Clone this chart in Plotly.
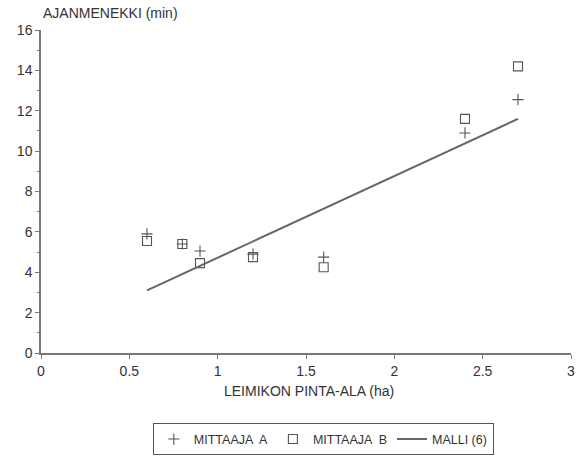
import plotly.graph_objects as go

# Data
area_ha = [0.6, 0.8, 0.9, 1.2, 1.6, 2.4, 2.7]
mittaaja_a = [5.9, 5.4, 5.05, 4.9, 4.75, 10.9, 12.55]
mittaaja_b = [5.55, 5.4, 4.45, 4.75, 4.25, 11.6, 14.2]
malli_x = [0.6, 2.7]
malli_y = [3.1, 11.6]

x_ticks = [0, 0.5, 1, 1.5, 2, 2.5, 3]
x_ticklabels = ["0", "0.5", "1", "1.5", "2", "2.5", "3"]
y_ticks = [0, 2, 4, 6, 8, 10, 12, 14, 16]

FONT = "Liberation Sans, Arial, Helvetica, sans-serif"
INK = "#333333"
AXIS = "#777777"

fig = go.Figure()
fig.add_trace(go.Scatter(
    x=area_ha, y=mittaaja_a, mode="markers", name="MITTAAJA  A",
    marker=dict(symbol="cross-thin", size=8, color="#555555",
                line=dict(width=1.1, color="#555555")),
))
fig.add_trace(go.Scatter(
    x=area_ha, y=mittaaja_b, mode="markers", name="MITTAAJA  B",
    marker=dict(symbol="square-open", size=9, color="#555555",
                line=dict(width=1.1, color="#555555")),
))
fig.add_trace(go.Scatter(
    x=malli_x, y=malli_y, mode="lines", name="MALLI (6)",
    line=dict(color="#666666", width=2),
))

fig.update_layout(
    width=582, height=458,
    margin=dict(l=41, r=11, t=30, b=105, autoexpand=False),
    paper_bgcolor="white", plot_bgcolor="white",
    font=dict(family=FONT, size=13, color=INK),
    showlegend=True,
    legend=dict(
        orientation="h", x=0.211, xanchor="left", y=-0.218, yanchor="top",
        bordercolor="#555555", borderwidth=1, bgcolor="white",
        font=dict(size=12.5, color=INK), itemwidth=30, tracegroupgap=0,
    ),
    xaxis=dict(
        range=[0, 3], tickmode="array", tickvals=x_ticks, ticktext=x_ticklabels,
        showgrid=False, zeroline=False, showline=True, linecolor=AXIS, linewidth=1.5,
        ticks="outside", ticklen=4, tickcolor=AXIS, tickfont=dict(size=14),
        automargin=False,
    ),
    yaxis=dict(
        range=[0, 16], tickmode="array", tickvals=y_ticks,
        showgrid=False, zeroline=False, showline=True, linecolor=AXIS, linewidth=1.5,
        ticks="outside", ticklen=4, tickcolor=AXIS, tickfont=dict(size=14),
        minor=dict(ticks="outside", ticklen=2, dtick=1, tickcolor=AXIS, showgrid=False),
        automargin=False,
    ),
    annotations=[
        dict(text="AJANMENEKKI (min)", xref="paper", yref="paper",
             x=0.0, y=1.053, xanchor="left", yanchor="middle",
             showarrow=False, font=dict(size=14, color=INK)),
        dict(text="LEIMIKON PINTA-ALA (ha)", xref="paper", yref="paper",
             x=0.506, y=-0.118, xanchor="center", yanchor="middle",
             showarrow=False, font=dict(size=14, color=INK)),
    ],
)

fig.write_html("out.html", config={"displayModeBar": False},
               post_script="document.body.style.margin='0';")
